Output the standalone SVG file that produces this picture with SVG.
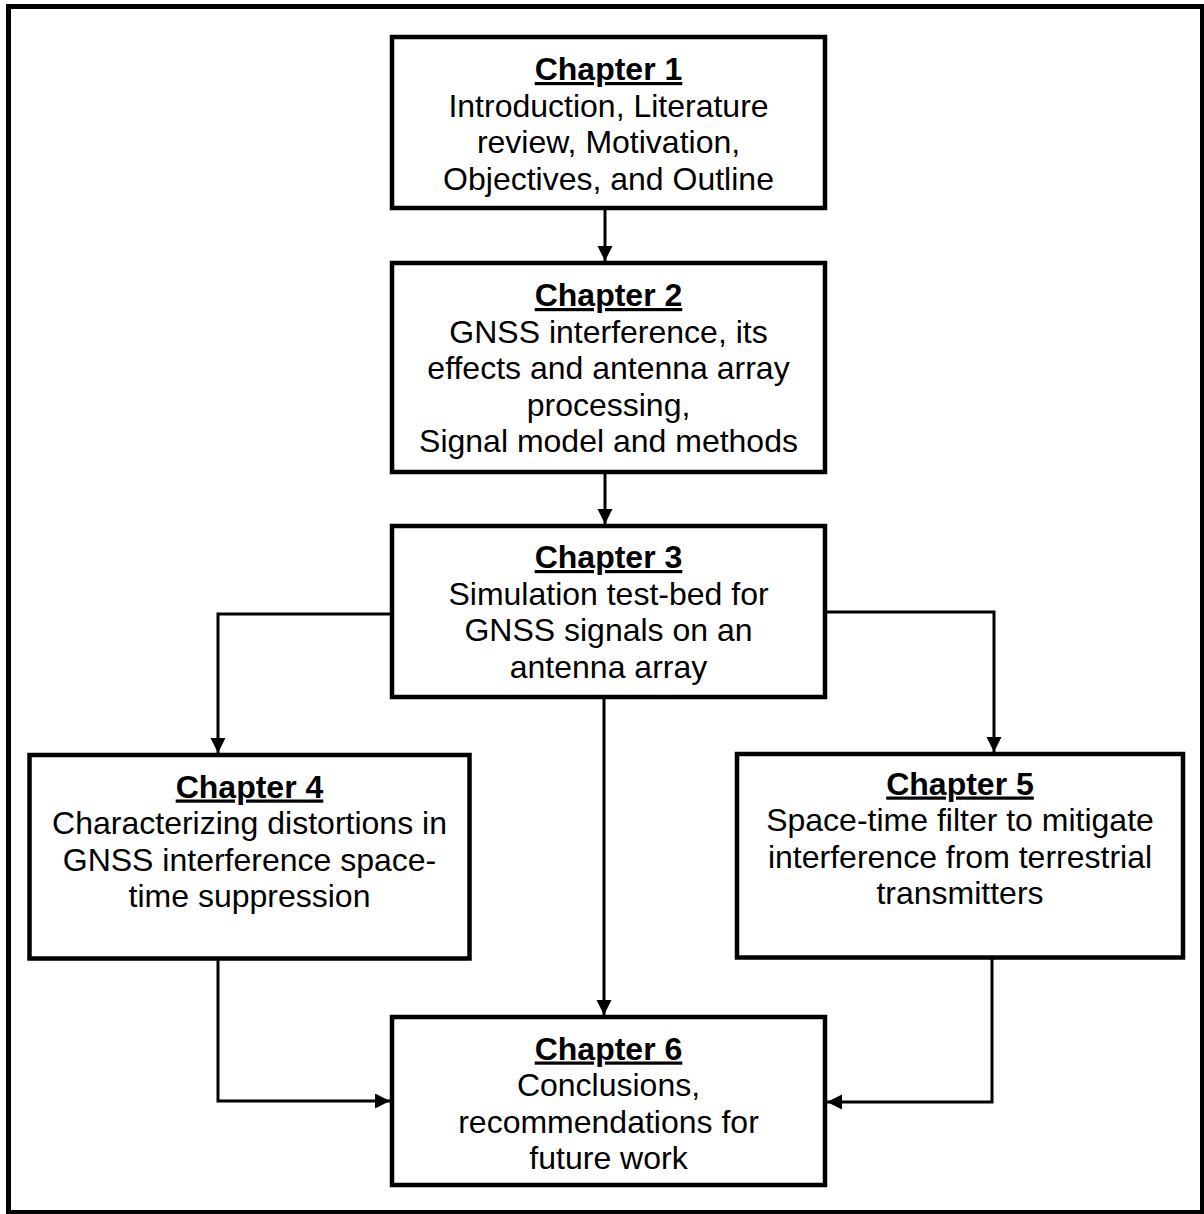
<svg xmlns="http://www.w3.org/2000/svg" width="1204" height="1214" viewBox="0 0 1204 1214">
  <defs>
    <marker id="arrow" markerUnits="userSpaceOnUse" markerWidth="16" markerHeight="16" refX="15" refY="7.5" orient="auto">
      <path d="M0,0 L15,7.5 L0,15 z" fill="#000"/>
    </marker>
  </defs>
  <style>
    .box { fill: #fff; stroke: #000; stroke-width: 4.5; }
    .conn { fill: none; stroke: #000; stroke-width: 3; }
    text { font-family: "Liberation Sans", Arial, sans-serif; font-size: 32px; fill: #000; text-anchor: middle; }
    .head { font-weight: bold; text-decoration: underline; }
  </style>
  <rect x="8.5" y="6.5" width="1194" height="1206" fill="#fff" stroke="#000" stroke-width="5"/>

  <g id="connectors">
    <line class="conn" x1="605" y1="208" x2="605" y2="261" marker-end="url(#arrow)"/>
    <line class="conn" x1="605" y1="472" x2="605" y2="524" marker-end="url(#arrow)"/>
    <line class="conn" x1="604" y1="697" x2="604" y2="1015" marker-end="url(#arrow)"/>
    <polyline class="conn" points="392,614 218,614 218,753" marker-end="url(#arrow)"/>
    <polyline class="conn" points="825,612 994,612 994,752" marker-end="url(#arrow)"/>
    <polyline class="conn" points="218,958 218,1101 390,1101" marker-end="url(#arrow)"/>
    <polyline class="conn" points="992,957 992,1102 827,1102" marker-end="url(#arrow)"/>
  </g>

  <g id="ch1">
    <rect class="box" x="392" y="37" width="433" height="171"/>
    <text x="608.5" y="80" class="head">Chapter 1</text>
    <text x="608.5" y="116.5">Introduction, Literature</text>
    <text x="608.5" y="153">review, Motivation,</text>
    <text x="608.5" y="189.5">Objectives, and Outline</text>
  </g>

  <g id="ch2">
    <rect class="box" x="392" y="263" width="433" height="209"/>
    <text x="608.5" y="306" class="head">Chapter 2</text>
    <text x="608.5" y="342.5">GNSS interference, its</text>
    <text x="608.5" y="379">effects and antenna array</text>
    <text x="608.5" y="415.5">processing,</text>
    <text x="608.5" y="452">Signal model and methods</text>
  </g>

  <g id="ch3">
    <rect class="box" x="392" y="526" width="433" height="171"/>
    <text x="608.5" y="568" class="head">Chapter 3</text>
    <text x="608.5" y="604.5">Simulation test-bed for</text>
    <text x="608.5" y="641">GNSS signals on an</text>
    <text x="608.5" y="677.5">antenna array</text>
  </g>

  <g id="ch4">
    <rect class="box" x="29.5" y="755" width="440" height="203.5"/>
    <text x="249.5" y="797.5" class="head">Chapter 4</text>
    <text x="249.5" y="834">Characterizing distortions in</text>
    <text x="249.5" y="870.5">GNSS interference space-</text>
    <text x="249.5" y="907">time suppression</text>
  </g>

  <g id="ch5">
    <rect class="box" x="737" y="754" width="446" height="203.5"/>
    <text x="960" y="794.5" class="head">Chapter 5</text>
    <text x="960" y="831">Space-time filter to mitigate</text>
    <text x="960" y="867.5">interference from terrestrial</text>
    <text x="960" y="904">transmitters</text>
  </g>

  <g id="ch6">
    <rect class="box" x="392" y="1017" width="433" height="168"/>
    <text x="608.5" y="1059.5" class="head">Chapter 6</text>
    <text x="608.5" y="1096">Conclusions,</text>
    <text x="608.5" y="1132.5">recommendations for</text>
    <text x="608.5" y="1169">future work</text>
  </g>
</svg>
